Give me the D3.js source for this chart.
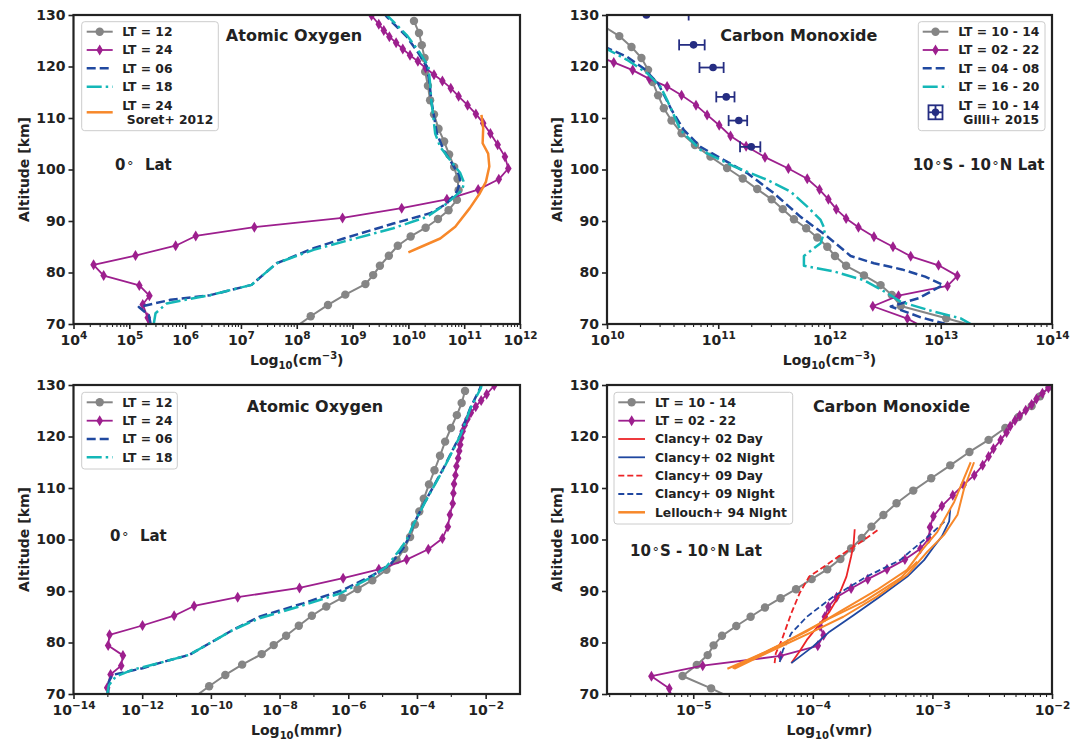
<!DOCTYPE html>
<html>
<head>
<meta charset="utf-8">
<script src="https://d3js.org/d3.v7.min.js"></script>
<style>
  html, body { margin: 0; padding: 0; background: #fff; }
  svg { display: block; font-family: "DejaVu Sans", sans-serif; font-weight: bold; }
</style>
</head>
<body>
<svg id="fig" width="1084" height="740"></svg>
<script>
// ---------------- Atomic oxygen, 0° latitude ----------------
// LT = 12 (circles) — shared altitude grid for density and mass mixing ratio
const altO_LT12 = [128.85,126.5,124.15,121.65,119.0,116.25,113.45,110.7,107.9,105.45,102.9,100.5,98.2,96.0,94.1,92.1,90.4,88.7,87.0,85.2,83.25,81.3,79.5,77.75,75.7,73.7,71.5,69.1];
const densO_LT12 = [1.26e10,1.55e10,1.74e10,1.95e10,2.0e10,2.24e10,2.45e10,2.88e10,3.47e10,4.37e10,5.37e10,6.61e10,7.59e10,7.94e10,7.41e10,5.25e10,3.39e10,2.04e10,1.10e10,6.46e9,4.47e9,3.09e9,2.34e9,1.70e9,7.41e8,3.63e8,1.78e8,8.7e7];
const mmrO_LT12 = [2.51e-3,2.0e-3,1.45e-3,9.77e-4,6.61e-4,4.68e-4,3.24e-4,2.24e-4,1.58e-4,1.17e-4,8.71e-5,6.31e-5,4.27e-5,2.57e-5,1.29e-5,5.01e-6,1.86e-6,6.76e-7,2.29e-7,8.71e-8,3.63e-8,1.55e-8,6.76e-9,3.02e-9,8.13e-10,2.63e-10,8.91e-11,2.88e-11];

// LT = 24 (diamonds)
const altO_LT24 = [129.9,128.2,127.0,125.8,124.6,123.4,122.2,121.0,119.7,118.4,117.2,115.8,114.2,112.5,110.8,109.0,107.0,104.8,102.5,100.2,98.1,96.1,94.2,92.5,90.6,88.8,87.1,85.2,83.3,81.5,79.4,77.5,75.5,73.8,71.2,69.2];
const densO_LT24 = [2.19e9,2.95e9,3.63e9,4.57e9,6.03e9,7.94e9,1.07e10,1.48e10,2.04e10,2.88e10,4.07e10,5.75e10,7.94e10,1.15e11,1.62e11,2.19e11,2.95e11,3.98e11,5.37e11,6.17e11,4.17e11,1.78e11,4.90e10,7.59e9,6.61e8,1.74e7,1.55e6,6.76e5,1.29e5,2.29e4,3.47e4,1.51e5,2.29e5,1.74e5,2.14e5,2.24e5];
const mmrO_LT24 = [1.78e-2,1.07e-2,7.41e-3,5.13e-3,3.72e-3,2.95e-3,2.45e-3,2.14e-3,1.95e-3,1.82e-3,1.70e-3,1.58e-3,1.41e-3,1.32e-3,1.20e-3,1.15e-3,1.10e-3,9.12e-4,7.94e-4,5.50e-4,2.14e-4,5.01e-5,7.76e-6,7.08e-7,3.80e-8,6.03e-10,3.24e-11,8.51e-12,1.02e-12,1.12e-13,1.02e-13,2.75e-13,2.45e-13,1.20e-13,9.55e-14,1.0e-13];

// LT = 06 and LT = 18, number density
const altO_LT06_dens = [130.5,129.7,125.8,122.6,120.0,116.7,113.5,110.9,107.0,103.8,101.2,98.9,97.6,95.7,93.4,91.5,89.5,86.6,84.7,81.8,77.6,75.6,74.7,73.3,71.7,70.1,69.0];
const densO_LT06 = [3.55e9,4.07e9,9.33e9,1.51e10,2.14e10,2.40e10,2.57e10,2.82e10,3.24e10,4.27e10,6.03e10,8.13e10,8.51e10,7.41e10,4.90e10,2.45e10,5.37e9,6.92e8,2.0e8,4.37e7,1.55e7,2.82e6,5.50e5,1.48e5,2.24e5,2.40e5,2.69e5];
const altO_LT18_dens = [130.5,129.7,126.1,122.6,120.0,116.7,113.5,110.9,107.0,104.4,101.8,99.3,97.4,96.0,93.4,90.8,88.6,86.0,84.4,81.8,77.6,75.6,74.0,72.1,70.1,69.0];
const densO_LT18 = [3.80e9,4.37e9,9.33e9,1.62e10,2.29e10,2.45e10,2.57e10,2.75e10,3.02e10,3.72e10,5.62e10,8.51e10,1.0e11,9.12e10,4.90e10,2.14e10,5.37e9,6.92e8,2.0e8,4.37e7,1.55e7,2.82e6,4.68e5,2.95e5,2.75e5,2.88e5];

// Soret et al. 2012, LT = 24
const altO_Soret = [110.6,108.0,105.1,103.1,100.6,97.6,95.4,92.5,88.9,86.6,84.9,83.9];
const densO_Soret = [2.04e11,2.19e11,2.14e11,2.69e11,2.82e11,2.45e11,1.91e11,1.26e11,6.92e10,3.72e10,1.62e10,1.0e10];

// LT = 06 and LT = 18, mass mixing ratio
const altO_LT06_mmr = [130.5,129.4,125.5,120.3,113.8,107.3,102.8,100.2,98.3,95.0,93.1,90.2,87.6,85.0,82.4,79.8,77.6,76.0,75.0,73.7,72.4,70.0,69.0];
const mmrO_LT06 = [7.59e-3,6.92e-3,3.55e-3,1.82e-3,5.89e-4,1.70e-4,7.76e-5,5.62e-5,3.98e-5,1.62e-5,5.25e-6,7.08e-7,4.79e-8,2.57e-9,4.27e-10,8.91e-11,2.34e-11,3.09e-12,1.02e-12,1.35e-13,1.07e-13,1.02e-13,1.02e-13];
const altO_LT18_mmr = [130.5,129.4,125.5,120.3,113.8,107.3,102.8,99.9,98.0,94.7,92.5,89.5,87.0,84.7,82.4,79.8,77.6,76.0,74.7,73.4,71.7,70.0,69.0];
const mmrO_LT18 = [7.94e-3,7.24e-3,3.63e-3,1.86e-3,6.03e-4,1.74e-4,7.76e-5,5.01e-5,3.16e-5,1.29e-5,4.27e-6,5.62e-7,3.80e-8,2.57e-9,4.27e-10,8.91e-11,2.34e-11,3.09e-12,5.13e-13,1.70e-13,1.07e-13,9.55e-14,9.55e-14];

// ---------------- Carbon monoxide, 10°S - 10°N ----------------
const altCO_LT1014 = [129.7,127.8,125.9,123.8,121.65,119.35,117.0,114.4,111.9,109.5,107.05,104.75,102.5,100.3,98.25,96.2,94.2,92.3,90.35,88.6,86.8,85.0,83.2,81.3,79.45,77.55,75.65,73.5,71.1,69.1];
const densCO_LT1014 = [7.94e9,9.33e9,1.29e10,1.66e10,2.04e10,2.34e10,2.57e10,2.88e10,3.24e10,3.80e10,4.68e10,6.17e10,8.51e10,1.20e11,1.66e11,2.24e11,3.02e11,3.80e11,4.79e11,6.17e11,7.76e11,9.55e11,1.12e12,1.41e12,2.04e12,2.88e12,3.63e12,4.37e12,1.12e13,2.45e13];
const vmrCO_LT1014 = [9.55e-3,7.94e-3,6.76e-3,5.25e-3,4.07e-3,2.95e-3,2.04e-3,1.41e-3,9.77e-4,6.92e-4,5.01e-4,3.89e-4,3.09e-4,2.57e-4,2.09e-4,1.70e-4,1.32e-4,9.77e-5,7.24e-5,5.37e-5,3.98e-5,3.02e-5,2.29e-5,1.74e-5,1.48e-5,1.32e-5,1.07e-5,8.13e-6,1.41e-5,2.14e-5];

const altCO_LT0222 = [129.4,128.4,127.3,126.2,125.1,124.1,123.1,122.0,120.8,119.3,117.6,116.1,114.4,112.5,110.6,108.6,106.5,104.5,102.4,100.2,98.2,96.1,94.2,92.3,90.5,88.8,86.95,85.0,83.15,81.4,79.35,77.4,75.5,73.45,71.05,69.2];
const vmrCO_LT0222 = [9.33e-3,8.32e-3,7.41e-3,6.76e-3,6.03e-3,5.37e-3,4.90e-3,4.47e-3,4.17e-3,3.72e-3,3.24e-3,2.95e-3,2.63e-3,2.24e-3,1.82e-3,1.48e-3,1.20e-3,1.02e-3,9.55e-4,9.33e-4,7.94e-4,5.89e-4,4.17e-4,2.88e-4,2.09e-4,1.58e-4,1.35e-4,1.26e-4,1.15e-4,1.23e-4,1.10e-4,5.37e-5,1.20e-5,4.47e-6,6.31e-6,6.61e-6];
// density profile for the same local times (from 122 km down)
const altCO_LT0222_dens = [122.0,120.8,119.3,117.6,116.1,114.4,112.5,110.6,108.6,106.5,104.5,102.4,100.2,98.2,96.1,94.2,92.3,90.5,88.8,86.95,85.0,83.15,81.4,79.35,77.4,75.5,73.45,71.05,69.2];
const densCO_LT0222 = [8.32e9,1.15e10,1.70e10,2.40e10,3.47e10,4.68e10,6.31e10,7.94e10,1.02e11,1.29e11,1.78e11,2.63e11,4.27e11,6.31e11,8.13e11,9.77e11,1.15e12,1.41e12,1.82e12,2.51e12,3.72e12,5.37e12,9.55e12,1.41e13,1.15e13,4.17e12,2.45e12,5.01e12,7.24e12];

const altCO_LT0408 = [123.9,121.9,119.6,116.7,111.6,107.7,104.4,102.2,99.3,95.4,90.8,87.0,83.2,81.8,80.6,79.2,77.6,75.0,73.4,71.3,70.1,69.0];
const densCO_LT0408 = [9.33e9,1.51e10,2.14e10,2.88e10,3.80e10,4.90e10,6.92e10,1.05e11,1.82e11,3.16e11,5.50e11,9.55e11,1.55e12,2.51e12,4.47e12,7.24e12,1.05e13,6.31e12,3.55e12,6.61e12,1.07e13,1.26e13];
const altCO_LT1620 = [123.9,121.3,118.7,116.1,113.5,107.7,103.8,100.6,98.0,95.7,92.8,90.2,88.3,85.7,83.2,81.3,80.2,78.5,76.0,74.3,72.4,71.1,70.0,69.0];
const densCO_LT1620 = [9.02e9,1.51e10,2.29e10,3.02e10,3.47e10,4.57e10,6.92e10,1.38e11,2.75e11,4.47e11,6.31e11,8.32e11,9.12e11,8.32e11,5.89e11,5.89e11,1.10e12,2.04e12,3.31e12,4.37e12,8.71e12,1.51e13,1.86e13,2.24e13];

// Gilli et al. 2015, LT = 10 - 14 (value ± error, cm^-3)
const altCO_Gilli = [130.0,124.2,119.8,114.1,109.5,104.4];
const densCO_Gilli = [2.26e10,6.0e10,8.98e10,1.18e11,1.53e11,1.98e11];
const errCO_Gilli = [3.16e10,1.55e10,2.2e10,2.2e10,2.9e10,4.1e10];

// Clancy et al. 2002 / 2009 and Lellouch et al. 1994 (vmr)
const altCl02Day = [102.0,99.0,96.7,92.8,90.5,88.3,86.0,83.7,80.5,78.3,76.0];
const vmrCl02Day = [2.24e-4,2.19e-4,2.09e-4,1.91e-4,1.74e-4,1.58e-4,1.38e-4,1.15e-4,8.91e-5,7.76e-5,6.61e-5];
const altCl02Night = [105.9,103.5,100.6,98.5,96.0,92.8,88.9,85.3,82.1,79.2,76.0];
const vmrCl02Night = [1.41e-3,1.38e-3,1.20e-3,1.02e-3,8.51e-4,6.17e-4,3.63e-4,2.19e-4,1.38e-4,1.0e-4,6.61e-5];
const altCl09Day = [101.8,99.3,96.0,94.2,92.8,89.6,85.7,80.5,77.9,76.0];
const vmrCl09Day = [3.47e-4,2.45e-4,1.48e-4,1.15e-4,9.33e-5,7.76e-5,6.61e-5,5.50e-5,4.90e-5,4.79e-5];
const altCl09Night = [103.5,101.5,99.9,98.0,96.0,92.8,88.9,85.0,81.8,78.5,76.0];
const vmrCl09Night = [1.26e-3,1.02e-3,8.51e-4,6.76e-4,5.37e-4,2.82e-4,1.48e-4,8.91e-5,6.61e-5,5.62e-5,5.25e-5];
const altLel94_a = [74.9,78.2,82.1,86.0,90.2,94.1,97.6,101.5,107.3,115.0];
const vmrLel94_a = [1.93e-5,4.06e-5,8.83e-5,1.68e-4,3.43e-4,6.14e-4,7.94e-4,1.10e-3,1.52e-3,2.09e-3];
const altLel94_b = [74.9,78.5,82.1,85.0,88.9,93.1,97.6,100.9,104.8,109.9,115.0];
const vmrLel94_b = [2.20e-5,4.62e-5,1.0e-4,1.80e-4,3.43e-4,6.14e-4,9.04e-4,1.25e-3,1.62e-3,1.84e-3,2.23e-3];
const altLel94_c = [75.0,79.5,84.4,87.9,92.5,95.7];
const vmrLel94_c = [2.13e-5,5.26e-5,1.30e-4,2.65e-4,5.40e-4,7.45e-4];

// ---------------- axis ticks ----------------
const altTicks = [70,80,90,100,110,120,130];
const expDensO = [4,5,6,7,8,9,10,11,12];
const expDensCO = [10,11,12,13,14];
const expMmrO = [-14,-12,-10,-8,-6,-4,-2];
const expVmrCO = [-5,-4,-3,-2];

// ---------------- styling ----------------
const INK = "#222222";
const C = {
  grey: "#858585", purple: "#9d1f8e", blue: "#2049a0", cyan: "#14b7b7",
  orange: "#f7882a", red: "#ec2427", nblue: "#1f47a0", gilli: "#252d82"
};
const S = {
  grey:   { stroke: C.grey,   width: 2.0, marker: "circle",  fill: C.grey },
  purple: { stroke: C.purple, width: 1.8, marker: "diamond", fill: C.purple },
  blue:   { stroke: C.blue,   width: 2.5, dash: "9,4" },
  cyan:   { stroke: C.cyan,   width: 2.5, dash: "15,4,2.5,4" },
  orange: { stroke: C.orange, width: 2.5 },
  red:    { stroke: C.red,    width: 1.8 },
  redD:   { stroke: C.red,    width: 1.8, dash: "6,3" },
  nblue:  { stroke: C.nblue,  width: 1.8 },
  nblueD: { stroke: C.nblue,  width: 1.8, dash: "6,3" },
  lel:    { stroke: C.orange, width: 2.0 }
};

const svg = d3.select("#fig");
const defs = svg.append("defs");

function diamondPath(h, w) {
  return `M0,${-h/2}L${w/2},0L0,${h/2}L${-w/2},0Z`;
}

function makePanel(id, left, top, width, height, xDomain) {
  const x = d3.scaleLog().domain(xDomain).range([left, left + width]);
  const y = d3.scaleLinear().domain([70, 130]).range([top + height, top]);
  defs.append("clipPath").attr("id", "clip" + id)
    .append("rect").attr("x", left).attr("y", top).attr("width", width).attr("height", height);
  const g = svg.append("g");
  const plot = g.append("g").attr("clip-path", `url(#clip${id})`);
  return { id, left, top, width, height, x, y, g, plot };
}

function series(p, alts, vals, style) {
  const pts = d3.zip(alts, vals);
  const line = d3.line().x(d => p.x(d[1])).y(d => p.y(d[0]));
  p.plot.append("path").datum(pts)
    .attr("d", line).attr("fill", "none")
    .attr("stroke", style.stroke).attr("stroke-width", style.width)
    .attr("stroke-dasharray", style.dash || null)
    .attr("stroke-linejoin", "round");
  if (style.marker === "circle") {
    p.plot.selectAll(null).data(pts).join("circle")
      .attr("cx", d => p.x(d[1])).attr("cy", d => p.y(d[0]))
      .attr("r", 4.2).attr("fill", style.fill);
  } else if (style.marker === "diamond") {
    p.plot.selectAll(null).data(pts).join("path")
      .attr("d", diamondPath(11, 6.6))
      .attr("transform", d => `translate(${p.x(d[1])},${p.y(d[0])})`)
      .attr("fill", style.fill);
  }
}

function expText(e) { return e < 0 ? "\u2212" + (-e) : String(e); }

function axes(p, exps, minorVals, xLabel) {
  const bottom = p.top + p.height;
  // minor ticks
  p.g.append("g").selectAll("line").data(minorVals.filter(v => v >= p.x.domain()[0] && v <= p.x.domain()[1]))
    .join("line")
    .attr("x1", d => p.x(d)).attr("x2", d => p.x(d))
    .attr("y1", bottom).attr("y2", bottom + 3)
    .attr("stroke", INK).attr("stroke-width", 1.1);
  // major ticks with 10^n labels
  const ax = d3.axisBottom(p.x).tickValues(exps.map(e => Math.pow(10, e)))
    .tickSize(5).tickPadding(6).tickFormat(() => "");
  const gx = p.g.append("g").attr("transform", `translate(0,${bottom})`).call(ax);
  gx.attr("font-size", 14).attr("font-family", null);
  gx.select(".domain").remove();
  gx.selectAll(".tick line").attr("stroke", INK).attr("stroke-width", 1.6);
  gx.selectAll(".tick text").attr("fill", INK).each(function(d, i) {
    const t = d3.select(this);
    t.append("tspan").text("10");
    t.append("tspan").attr("dy", -5.5).attr("font-size", 10.5).text(expText(exps[i]));
  });
  // altitude axis
  const ay = d3.axisLeft(p.y).tickValues(altTicks).tickSize(5).tickPadding(3).tickFormat(d3.format("d"));
  const gy = p.g.append("g").attr("transform", `translate(${p.left},0)`).call(ay);
  gy.attr("font-size", 14).attr("font-family", null);
  gy.select(".domain").remove();
  gy.selectAll(".tick line").attr("stroke", INK).attr("stroke-width", 1.6);
  gy.selectAll(".tick text").attr("fill", INK);
  // frame
  p.g.append("rect").attr("x", p.left).attr("y", p.top).attr("width", p.width).attr("height", p.height)
    .attr("fill", "none").attr("stroke", INK).attr("stroke-width", 2.2);
  // axis titles
  const xl = p.g.append("text").attr("x", p.left + p.width / 2).attr("y", bottom + 41)
    .attr("text-anchor", "middle").attr("font-size", 14).attr("fill", INK);
  xl.append("tspan").text("Log");
  xl.append("tspan").attr("dy", 4).attr("font-size", 10).text("10");
  xl.append("tspan").attr("dy", -4).text("(" + xLabel.base);
  if (xLabel.sup) {
    xl.append("tspan").attr("dy", -6).attr("font-size", 10).text(xLabel.sup);
    xl.append("tspan").attr("dy", 6).text(")");
  } else {
    xl.append("tspan").text(")");
  }
  p.g.append("text")
    .attr("transform", `translate(${p.left - 45},${p.top + p.height / 2}) rotate(-90)`)
    .attr("text-anchor", "middle").attr("font-size", 14).attr("fill", INK)
    .text("Altitude [km]");
}

function title(p, text, cx, baseline) {
  p.g.append("text").attr("x", cx).attr("y", baseline).attr("text-anchor", "middle")
    .attr("font-size", 16).attr("fill", INK).text(text);
}

// latitude tag: pieces alternate between normal text and a degree ring
function latTag(p, parts, x, baseline, anchor) {
  const t = p.g.append("text").attr("x", x).attr("y", baseline)
    .attr("text-anchor", anchor).attr("font-size", 15).attr("fill", INK)
    .attr("xml:space", "preserve");
  parts.forEach(part => {
    if (part === "°") {
      t.append("tspan").attr("dx", 1.5).attr("font-size", 13).attr("font-weight", "normal").text("\u00b0");
    } else {
      t.append("tspan").attr("dx", 1).text(part);
    }
  });
}

function legend(p, box, hx0, hx1, tx, rows) {
  const lg = p.g.append("g");
  lg.append("rect").attr("x", box[0]).attr("y", box[1]).attr("width", box[2]).attr("height", box[3])
    .attr("rx", 3).attr("fill", "#ffffff").attr("fill-opacity", 0.85)
    .attr("stroke", "#cccccc").attr("stroke-width", 1);
  rows.forEach(r => {
    const cy = r.cy;
    if (r.errbar) {
      const cx = (hx0 + hx1) / 2;
      lg.append("rect").attr("x", cx - 7).attr("y", cy - 7).attr("width", 14).attr("height", 14)
        .attr("fill", "none").attr("stroke", r.errbar).attr("stroke-width", 1.8);
      lg.append("line").attr("x1", cx - 7).attr("x2", cx + 7).attr("y1", cy).attr("y2", cy)
        .attr("stroke", r.errbar).attr("stroke-width", 1.8);
      lg.append("line").attr("x1", cx).attr("x2", cx).attr("y1", cy - 7).attr("y2", cy + 7)
        .attr("stroke", r.errbar).attr("stroke-width", 1.8);
      lg.append("circle").attr("cx", cx).attr("cy", cy).attr("r", 3.7).attr("fill", r.errbar);
    } else {
      const st = r.style;
      lg.append("line").attr("x1", hx0).attr("x2", hx1).attr("y1", cy).attr("y2", cy)
        .attr("stroke", st.stroke).attr("stroke-width", st.width)
        .attr("stroke-dasharray", st.dash || null);
      const mx = (hx0 + hx1) / 2;
      if (st.marker === "circle") {
        lg.append("circle").attr("cx", mx).attr("cy", cy).attr("r", 4.2).attr("fill", st.fill);
      } else if (st.marker === "diamond") {
        lg.append("path").attr("d", diamondPath(11, 6.6)).attr("transform", `translate(${mx},${cy})`).attr("fill", st.fill);
      }
    }
    const lines = r.text;
    lines.forEach((s, k) => {
      const off = lines.length === 1 ? 0 : (k === 0 ? -7 : 7);
      lg.append("text").attr("x", tx + (k > 0 ? (r.indent || 0) : 0)).attr("y", cy + off + 4.4)
        .attr("font-size", 12.3).attr("fill", INK).text(s);
    });
  });
}

function minorTicks(e0, e1) {
  const out = [];
  for (let e = e0; e <= e1; e++) for (let m = 2; m <= 9; m++) out.push(m * Math.pow(10, e));
  return out;
}

// ---------------- Panel (a): atomic oxygen density ----------------
const pA = makePanel("A", 73.5, 15, 446.5, 309, [1e4, 1e12]);
series(pA, altO_LT12, densO_LT12, S.grey);
series(pA, altO_LT24, densO_LT24, S.purple);
series(pA, altO_LT06_dens, densO_LT06, S.blue);
series(pA, altO_LT18_dens, densO_LT18, S.cyan);
series(pA, altO_Soret, densO_Soret, S.orange);
axes(pA, expDensO, minorTicks(4, 11), { base: "cm", sup: "\u22123" });
title(pA, "Atomic Oxygen", 294, 40.7);
latTag(pA, ["0", "°", "  Lat"], 114, 170, "start");
legend(pA, [81.7, 21.7, 136.6, 109], 86.7, 112.7, 122.3, [
  { cy: 31.7, style: S.grey, text: ["LT = 12"] },
  { cy: 50.0, style: S.purple, text: ["LT = 24"] },
  { cy: 68.3, style: S.blue, text: ["LT = 06"] },
  { cy: 86.7, style: S.cyan, text: ["LT = 18"] },
  { cy: 112.3, style: S.orange, text: ["LT = 24", "Soret+ 2012"], indent: 4.5 }
]);

// ---------------- Panel (b): carbon monoxide density ----------------
const pB = makePanel("B", 607, 15, 445, 309, [1e10, 1e14]);
series(pB, altCO_LT1014, densCO_LT1014, S.grey);
series(pB, altCO_LT0222_dens, densCO_LT0222, S.purple);
series(pB, altCO_LT0408, densCO_LT0408, S.blue);
series(pB, altCO_LT1620, densCO_LT1620, S.cyan);
// Gilli+ 2015 points with horizontal error bars
{
  const g = pB.plot.append("g");
  altCO_Gilli.forEach((a, i) => {
    const v = densCO_Gilli[i], e = errCO_Gilli[i];
    const lo = v - e > 0 ? pB.x(v - e) : pB.left - 10;
    const hi = pB.x(v + e);
    const yy = pB.y(a);
    g.append("line").attr("x1", lo).attr("x2", hi).attr("y1", yy).attr("y2", yy)
      .attr("stroke", C.gilli).attr("stroke-width", 1.8);
    [lo, hi].forEach(xx => g.append("line").attr("x1", xx).attr("x2", xx)
      .attr("y1", yy - 5.5).attr("y2", yy + 5.5).attr("stroke", C.gilli).attr("stroke-width", 1.8));
    g.append("circle").attr("cx", pB.x(v)).attr("cy", yy).attr("r", 3.8).attr("fill", C.gilli);
  });
}
axes(pB, expDensCO, minorTicks(10, 13), { base: "cm", sup: "\u22123" });
title(pB, "Carbon Monoxide", 798.8, 40.7);
latTag(pB, ["10", "°", "S - 10", "°", "N Lat"], 1043.5, 170, "end");
legend(pB, [918.3, 21.7, 126.7, 109], 922.7, 948.3, 958.3, [
  { cy: 31.7, style: S.grey, text: ["LT = 10 - 14"] },
  { cy: 50.0, style: S.purple, text: ["LT = 02 - 22"] },
  { cy: 68.3, style: S.blue, text: ["LT = 04 - 08"] },
  { cy: 86.7, style: S.cyan, text: ["LT = 16 - 20"] },
  { cy: 112.3, errbar: C.gilli, text: ["LT = 10 - 14", "Gilli+ 2015"], indent: 5 }
]);

// ---------------- Panel (c): atomic oxygen mass mixing ratio ----------------
const pC = makePanel("C", 73.5, 385, 446.5, 309, [1e-14, 1e-1]);
series(pC, altO_LT12, mmrO_LT12, S.grey);
series(pC, altO_LT24, mmrO_LT24, S.purple);
series(pC, altO_LT06_mmr, mmrO_LT06, S.blue);
series(pC, altO_LT18_mmr, mmrO_LT18, S.cyan);
axes(pC, expMmrO, [-13, -11, -9, -7, -5, -3].map(e => Math.pow(10, e)), { base: "mmr" });
title(pC, "Atomic Oxygen", 315, 411.7);
latTag(pC, ["0", "°", "  Lat"], 109, 540.7, "start");
legend(pC, [81.7, 392.3, 95.6, 76.7], 86.7, 112.7, 122.3, [
  { cy: 402.3, style: S.grey, text: ["LT = 12"] },
  { cy: 420.7, style: S.purple, text: ["LT = 24"] },
  { cy: 439.0, style: S.blue, text: ["LT = 06"] },
  { cy: 457.3, style: S.cyan, text: ["LT = 18"] }
]);

// ---------------- Panel (d): carbon monoxide volume mixing ratio ----------------
const pD = makePanel("D", 607, 385, 445, 309, [1.9e-6, 1e-2]);
series(pD, altCO_LT1014, vmrCO_LT1014, S.grey);
series(pD, altCO_LT0222, vmrCO_LT0222, S.purple);
series(pD, altCl02Day, vmrCl02Day, S.red);
series(pD, altCl02Night, vmrCl02Night, S.nblue);
series(pD, altCl09Day, vmrCl09Day, S.redD);
series(pD, altCl09Night, vmrCl09Night, S.nblueD);
series(pD, altLel94_a, vmrLel94_a, S.lel);
series(pD, altLel94_b, vmrLel94_b, S.lel);
series(pD, altLel94_c, vmrLel94_c, S.lel);
axes(pD, expVmrCO, minorTicks(-6, -3), { base: "vmr" });
title(pD, "Carbon Monoxide", 891.5, 411.7);
latTag(pD, ["10", "°", "S - 10", "°", "N Lat"], 629, 555.7, "start");
legend(pD, [614, 392.3, 178.7, 131.7], 618.3, 645, 655, [
  { cy: 402.3, style: S.grey, text: ["LT = 10 - 14"] },
  { cy: 420.7, style: S.purple, text: ["LT = 02 - 22"] },
  { cy: 439.0, style: S.red, text: ["Clancy+ 02 Day"] },
  { cy: 457.3, style: S.nblue, text: ["Clancy+ 02 Night"] },
  { cy: 475.7, style: S.redD, text: ["Clancy+ 09 Day"] },
  { cy: 494.0, style: S.nblueD, text: ["Clancy+ 09 Night"] },
  { cy: 512.3, style: S.orange, text: ["Lellouch+ 94 Night"] }
]);
</script>
</body>
</html>
